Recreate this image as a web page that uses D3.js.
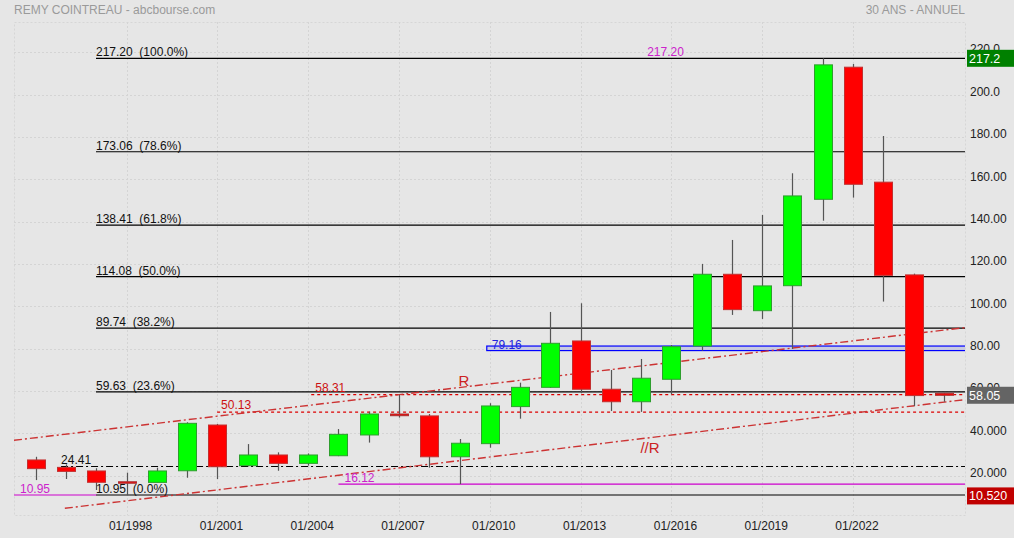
<!DOCTYPE html>
<html><head><meta charset="utf-8">
<script src="https://cdn.jsdelivr.net/npm/d3@7"></script>
<style>
html,body{margin:0;padding:0;background:#e6e6e6;}
svg{display:block;font-family:"Liberation Sans",Arial,sans-serif;}
text{white-space:pre;}
</style></head>
<body>
<svg id="c" width="1014" height="538"></svg>
<script>
// ---- data ----
const years = [1995,1996,1997,1998,1999,2000,2001,2002,2003,2004,2005,2006,2007,2008,2009,2010,2011,2012,2013,2014,2015,2016,2017,2018,2019,2020,2021,2022,2023,2024,2025];
const opens = [27.5,24.0,22.3,17.2,16.9,22.4,44.0,24.8,29.85,25.9,29.5,39.3,49.2,48.3,29.0,35.2,52.7,61.8,83.7,60.9,55.0,65.6,81.3,115.2,98.0,109.8,150.6,213.0,158.7,114.9,59.0];
const highs = [29.0,25.4,23.6,21.5,23.85,45.3,44.5,35.0,31.1,30.6,42.1,50.3,58.31,49.2,37.4,54.3,64.0,97.4,101.5,70.0,75.2,81.8,120.1,131.4,143.2,162.9,217.2,214.5,180.5,115.5,59.2];
const lows  = [18.0,18.5,13.3,10.95,16.9,19.1,18.5,24.5,22.4,24.8,29.3,35.7,47.5,23.85,16.12,33.3,47.0,61.5,59.0,50.6,50.2,58.5,79.1,96.0,94.1,79.9,140.5,151.4,102.3,53.0,55.0];
const closes= [23.4,22.1,16.95,16.5,22.3,44.8,24.3,29.85,25.9,29.85,39.6,49.2,48.4,29.0,35.4,53.0,61.8,82.6,60.9,55.0,66.1,81.0,115.2,98.5,109.7,152.2,214.1,157.7,114.7,57.9,58.05];

const yTicks = [20,40,60,80,100,120,140,160,180,200,220];
const yTickLabels = ["20.000","40.000","60.00","80.00","100.00","120.00","140.00","160.00","180.00","200.0","220.0"];
const xTicks = [1998,2001,2004,2007,2010,2013,2016,2019,2022];
const xTickLabels = ["01/1998","01/2001","01/2004","01/2007","01/2010","01/2013","01/2016","01/2019","01/2022"];

const fibValues = [217.20,173.06,138.41,114.08,89.74,59.63,10.95];
const fibLabels = ["217.20  (100.0%)","173.06  (78.6%)","138.41  (61.8%)","114.08  (50.0%)","89.74  (38.2%)","59.63  (23.6%)","10.95  (0.0%)"];

const supportBlack = {value:24.41, fromYear:1996, label:"24.41"};
const redDotted = [{value:50.13, fromYear:2000.99, label:"50.13"},{value:58.31, fromYear:2004.1, label:"58.31"}];
const magentaLines = [{value:16.12, fromYear:2005.0, toYear:2025.7, label:"16.12"},{value:10.95, fromYear:1994.28, toYear:1997.0, label:"10.95"}];
const blueZone = {low:79.16, high:81.3, fromYear:2009.9, label:"79.16"};
const trendUpper = [[1994.28,36.8],[2025.7,90.0]];
const trendLower = [[1995.96,4.67],[2025.7,56.0]];
const maxLabel = {year:2015.2, value:217.20, text:"217.20"};
const priceBoxes = [{value:217.2,text:"217.2",color:"#008000"},{value:58.05,text:"58.05",color:"#646464"},{value:10.52,text:"10.520",color:"#c00000"}];

// ---- layout ----
const L=14, R=965, T=22, B=515;
const svg = d3.select("#c");
const x = d3.scaleLinear().domain([1994.28, 2025.7]).range([L, R]);
const y = d3.scaleLinear().domain([10.95, 217.2]).range([495, 58.3]);

svg.append("defs").append("clipPath").attr("id","clip")
  .append("rect").attr("x",L).attr("y",T).attr("width",R-L).attr("height",B-T);

// titles
svg.append("text").attr("x",14).attr("y",14).attr("font-size",12).attr("fill","#9a9a9a").text("REMY COINTREAU - abcbourse.com");
svg.append("text").attr("x",965).attr("y",14).attr("font-size",12).attr("fill","#9a9a9a").attr("text-anchor","end").text("30 ANS - ANNUEL");

// plot frame
svg.append("rect").attr("x",L+0.5).attr("y",T+0.5).attr("width",R-L).attr("height",B-T)
  .attr("fill","none").attr("stroke","#d6d6d6").attr("stroke-dasharray","2,2");

const g = svg.append("g").attr("clip-path","url(#clip)");

// grid
g.selectAll(".hg").data(yTicks).join("line")
  .attr("x1",L).attr("x2",R).attr("y1",d=>Math.round(y(d))+0.5).attr("y2",d=>Math.round(y(d))+0.5)
  .attr("stroke","#d4d4d4").attr("stroke-dasharray","2,2");
g.selectAll(".vg").data(xTicks).join("line")
  .attr("y1",T).attr("y2",B).attr("x1",d=>Math.round(x(d))+0.5).attr("x2",d=>Math.round(x(d))+0.5)
  .attr("stroke","#d4d4d4").attr("stroke-dasharray","2,2");

// blue zone
g.append("rect").attr("x",x(blueZone.fromYear)).attr("y",y(blueZone.high))
  .attr("width",R-x(blueZone.fromYear)+2).attr("height",y(blueZone.low)-y(blueZone.high))
  .attr("fill","#c9cbe0").attr("stroke","#0000ff").attr("stroke-width",1.2);

// fib lines
const fibX0 = 96;
g.selectAll(".fib").data(fibValues).join("line")
  .attr("x1",fibX0).attr("x2",R).attr("y1",d=>y(d)).attr("y2",d=>y(d))
  .attr("stroke","#000").attr("stroke-width",1.2);

// magenta lines
g.selectAll(".mg").data(magentaLines).join("line")
  .attr("x1",d=>x(d.fromYear)).attr("x2",d=>x(d.toYear)).attr("y1",d=>y(d.value)).attr("y2",d=>y(d.value))
  .attr("stroke","#cc00cc").attr("stroke-width",1.2);

// black dash-dot support
g.append("line").attr("x1",x(supportBlack.fromYear)-5).attr("x2",R)
  .attr("y1",y(supportBlack.value)).attr("y2",y(supportBlack.value))
  .attr("stroke","#000").attr("stroke-width",1.2).attr("stroke-dasharray","7,3,2,3");

// red dotted
g.selectAll(".rd").data(redDotted).join("line")
  .attr("x1",d=>x(d.fromYear)).attr("x2",R).attr("y1",d=>y(d.value)).attr("y2",d=>y(d.value))
  .attr("stroke","#dd0000").attr("stroke-width",1.2).attr("stroke-dasharray","3,3");

// trend lines
const tl = d3.line().x(d=>x(d[0])).y(d=>y(d[1]));
[trendUpper,trendLower].forEach(t=>{
  g.append("path").attr("d",tl(t)).attr("fill","none").attr("stroke","#cc3333")
   .attr("stroke-width",1.4).attr("stroke-dasharray","8,3,2,3");
});

// candles
const data = years.map((yr,i)=>({yr,o:opens[i],h:highs[i],l:lows[i],c:closes[i]}));
const cw = 18;
g.selectAll(".wick").data(data).join("line")
  .attr("x1",d=>Math.round(x(d.yr))+0.5).attr("x2",d=>Math.round(x(d.yr))+0.5)
  .attr("y1",d=>y(d.h)).attr("y2",d=>y(d.l)).attr("stroke","#555").attr("stroke-width",1.2);
g.selectAll(".body").data(data).join("rect")
  .attr("x",d=>Math.round(x(d.yr))-cw/2+0.5)
  .attr("y",d=>y(Math.max(d.o,d.c)))
  .attr("width",cw)
  .attr("height",d=>Math.max(1,Math.abs(y(d.o)-y(d.c))))
  .attr("fill",d=>d.c>=d.o?"#00ff00":"#ff0000")
  .attr("stroke",d=>d.c>=d.o?"#2e9e2e":(Math.abs(d.o-d.c)<1?"#a83232":"#c23030"))
  .attr("stroke-width",1);

// labels in plot
const lab = svg.append("g").attr("font-size",12);
lab.selectAll(".fl").data(fibValues).join("text")
  .attr("x",fibX0).attr("y",d=>y(d)-2).attr("fill","#111").text((d,i)=>fibLabels[i]);
lab.append("text").attr("x",x(supportBlack.fromYear)-5).attr("y",y(supportBlack.value)-2.5).attr("fill","#111").text(supportBlack.label);
lab.selectAll(".rl").data(redDotted).join("text")
  .attr("x",d=>x(d.fromYear)+4).attr("y",d=>y(d.value)-3).attr("fill","#cc1111").text(d=>d.label);
lab.selectAll(".ml").data(magentaLines).join("text")
  .attr("x",(d,i)=>i===0?x(d.fromYear)+6:20).attr("y",d=>y(d.value)-2.5).attr("fill","#cc22cc").text(d=>d.label);
lab.append("text").attr("x",x(blueZone.fromYear)+5).attr("y",y(blueZone.low)-2).attr("fill","#2222dd").text(blueZone.label);
lab.append("text").attr("x",x(maxLabel.year)).attr("y",y(maxLabel.value)-2.5).attr("fill","#cc22cc").text(maxLabel.text);
lab.append("text").attr("x",464).attr("y",386).attr("font-size",15).attr("fill","#cc2222").attr("text-anchor","middle").text("R");
lab.append("text").attr("x",650).attr("y",452.5).attr("font-size",15).attr("fill","#cc2222").attr("text-anchor","middle").text("//R");

// right axis
const yAxis = d3.axisRight(y).tickValues(yTicks).tickSize(0).tickPadding(0)
  .tickFormat((d,i)=>yTickLabels[i]);
const ya = svg.append("g").attr("transform",`translate(970,0)`).call(yAxis);
ya.select(".domain").remove();
ya.selectAll("text").attr("font-size",12).attr("fill","#222").attr("dy","0.05em")
  .attr("font-family","Liberation Sans, Arial, sans-serif");

// bottom axis
const xAxis = d3.axisBottom(x).tickValues(xTicks).tickSize(0).tickPadding(0)
  .tickFormat((d,i)=>xTickLabels[i]);
const xa = svg.append("g").attr("transform",`translate(3.5,521)`).call(xAxis);
xa.select(".domain").remove();
xa.selectAll("text").attr("font-size",12).attr("fill","#222")
  .attr("font-family","Liberation Sans, Arial, sans-serif");

// price boxes
const pb = svg.append("g").selectAll("g").data(priceBoxes).join("g");
pb.append("rect").attr("x",967).attr("y",d=>y(d.value)-8.5).attr("width",47).attr("height",17).attr("fill",d=>d.color);
pb.append("text").attr("x",969).attr("y",d=>y(d.value)+4.5).attr("font-size",12.5).attr("fill","#fff").text(d=>d.text);
</script>
</body></html>
